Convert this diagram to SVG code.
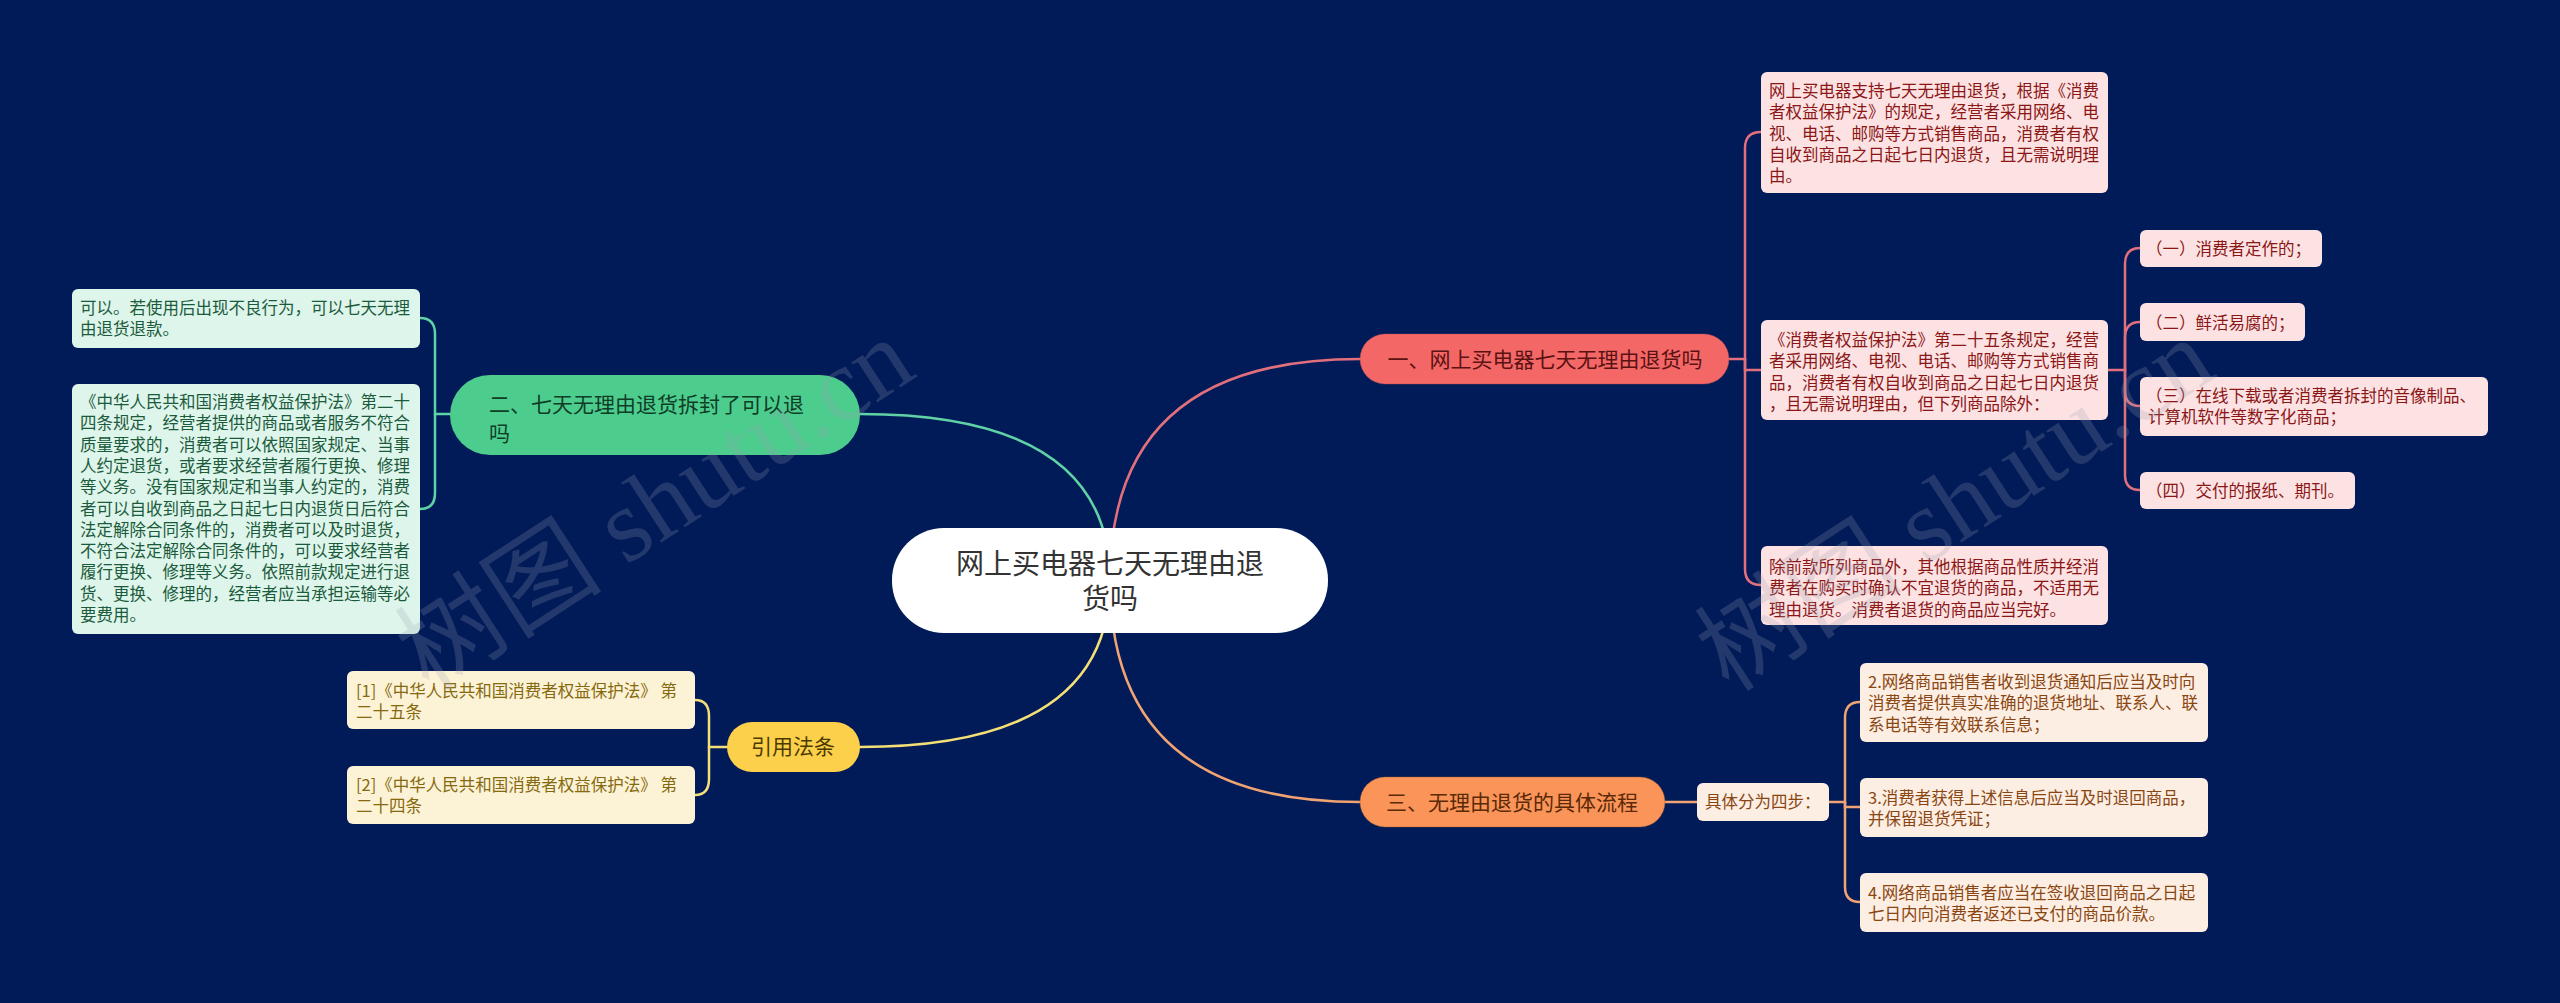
<svg xmlns="http://www.w3.org/2000/svg" width="2560" height="1003" viewBox="0 0 2560 1003">
<style>
text{font-family:"Noto Sans CJK SC","Microsoft YaHei",sans-serif}
.leaf{font-size:16.5px}
.br{font-size:21px}
.wm{font-family:"Liberation Serif","Noto Sans CJK SC",serif;font-size:104px;fill:#9aa0b0;opacity:0.22}
.c{fill:none;stroke-width:2.5;stroke-linecap:round}
.cg{stroke:#5fd3a6}.cr{stroke:#e2707c}.cy{stroke:#f3df76}.co{stroke:#f0a373}
.lr{fill:#fde2e3}.tr{fill:#8a1616}
.lg{fill:#ddf5ea}.tg{fill:#1c5a3c}
.ly{fill:#fcf3d6}.ty{fill:#86690e}
.lo{fill:#fdeee3}.to{fill:#8a4612}
</style>
<rect width="2560" height="1003" fill="#011b59"/>

<g id="connectors">
<path class="c cg" d="M1110 580 Q1110 414 860 414"/>
<path class="c cr" d="M1110 580 Q1110 359 1360 359"/>
<path class="c cy" d="M1110 580 Q1110 747 860 747"/>
<path class="c co" d="M1110 580 Q1110 802 1360 802"/>
<path class="c cg" d="M450 414 H435 V334 Q435 318 420 318"/>
<path class="c cg" d="M435 414 V493 Q435 509 420 509"/>
<path class="c cy" d="M727 747 H709 V716 Q709 700 695 700"/>
<path class="c cy" d="M709 747 V779 Q709 795 695 795"/>
<path class="c cr" d="M1729 359 H1745 V148 Q1745 132 1761 132"/>
<path class="c cr" d="M1745 359 V370 H1761"/>
<path class="c cr" d="M1745 359 V569 Q1745 585 1761 585"/>
<path class="c cr" d="M2108 370 H2125 V264 Q2125 248 2140 248"/>
<path class="c cr" d="M2125 370 V338 Q2125 322 2140 322"/>
<path class="c cr" d="M2125 370 V391 Q2125 406 2140 406"/>
<path class="c cr" d="M2125 370 V475 Q2125 490 2140 490"/>
<path class="c co" d="M1665 802 H1697"/>
<path class="c co" d="M1829 802 H1845 V718 Q1845 702 1860 702"/>
<path class="c co" d="M1845 802 V807 H1860"/>
<path class="c co" d="M1845 802 V887 Q1845 902 1860 902"/>
</g>

<g id="root">
<rect x="892" y="528" width="436" height="105" rx="52" fill="#ffffff"/>
<text x="1110" y="574" font-size="28" fill="#333" text-anchor="middle">网上买电器七天无理由退</text>
<text x="1110" y="609" font-size="28" fill="#333" text-anchor="middle">货吗</text>
</g>

<g id="b1">
<rect x="1360" y="334" width="369" height="50" rx="25" fill="#f46767" stroke="#b04a4a" stroke-opacity="0.4"/>
<text class="br" x="1545" y="367" fill="#5a1212" text-anchor="middle">一、网上买电器七天无理由退货吗</text>
</g>
<g id="b2">
<rect x="450" y="375" width="410" height="80" rx="40" fill="#4ccd8e"/>
<text class="br" x="489" y="412" fill="#0f3d26">二、七天无理由退货拆封了可以退</text>
<text class="br" x="489" y="441" fill="#0f3d26">吗</text>
</g>
<g id="b3">
<rect x="1360" y="777" width="305" height="50" rx="25" fill="#fb9458" stroke="#a05a2a" stroke-opacity="0.4"/>
<text class="br" x="1512" y="810" fill="#5a2a08" text-anchor="middle">三、无理由退货的具体流程</text>
</g>
<g id="b4">
<rect x="727" y="722" width="133" height="50" rx="25" fill="#fdd04b"/>
<text class="br" x="793" y="754" fill="#4a3a00" text-anchor="middle">引用法条</text>
</g>

<g id="r1">
<rect class="lr" x="1761" y="72" width="347" height="121" rx="6"/>
<text class="leaf tr"><tspan x="1769" y="97">网上买电器支持七天无理由退货，根据《消费</tspan><tspan x="1769" y="118.3">者权益保护法》的规定，经营者采用网络、电</tspan><tspan x="1769" y="139.6">视、电话、邮购等方式销售商品，消费者有权</tspan><tspan x="1769" y="160.9">自收到商品之日起七日内退货，且无需说明理</tspan><tspan x="1769" y="182.2">由。</tspan></text>
</g>
<g id="r2">
<rect class="lr" x="1761" y="320" width="347" height="100" rx="6"/>
<text class="leaf tr"><tspan x="1769" y="346">《消费者权益保护法》第二十五条规定，经营</tspan><tspan x="1769" y="367.3">者采用网络、电视、电话、邮购等方式销售商</tspan><tspan x="1769" y="388.6">品，消费者有权自收到商品之日起七日内退货</tspan><tspan x="1769" y="409.9">，且无需说明理由，但下列商品除外：</tspan></text>
</g>
<g id="r3">
<rect class="lr" x="1761" y="546" width="347" height="79" rx="6"/>
<text class="leaf tr"><tspan x="1769" y="573">除前款所列商品外，其他根据商品性质并经消</tspan><tspan x="1769" y="594.3">费者在购买时确认不宜退货的商品，不适用无</tspan><tspan x="1769" y="615.6">理由退货。消费者退货的商品应当完好。</tspan></text>
</g>

<g id="s1">
<rect class="lr" x="2140" y="230" width="182" height="37" rx="6"/>
<text class="leaf tr" x="2146" y="255">（一）消费者定作的；</text>
</g>
<g id="s2">
<rect class="lr" x="2140" y="303" width="165" height="38" rx="6"/>
<text class="leaf tr" x="2146" y="328.5">（二）鲜活易腐的；</text>
</g>
<g id="s3">
<rect class="lr" x="2140" y="377" width="348" height="59" rx="6"/>
<text class="leaf tr"><tspan x="2146" y="402">（三）在线下载或者消费者拆封的音像制品、</tspan><tspan x="2148" y="423.3">计算机软件等数字化商品；</tspan></text>
</g>
<g id="s4">
<rect class="lr" x="2140" y="472" width="215" height="37" rx="6"/>
<text class="leaf tr" x="2146" y="497">（四）交付的报纸、期刊。</text>
</g>

<g id="g1">
<rect class="lg" x="72" y="289" width="348" height="59" rx="6"/>
<text class="leaf tg"><tspan x="80" y="314">可以。若使用后出现不良行为，可以七天无理</tspan><tspan x="80" y="335.3">由退货退款。</tspan></text>
</g>
<g id="g2">
<rect class="lg" x="72" y="384" width="348" height="250" rx="6"/>
<text class="leaf tg"><tspan x="80" y="408">《中华人民共和国消费者权益保护法》第二十</tspan><tspan x="80" y="429.3">四条规定，经营者提供的商品或者服务不符合</tspan><tspan x="80" y="450.6">质量要求的，消费者可以依照国家规定、当事</tspan><tspan x="80" y="471.9">人约定退货，或者要求经营者履行更换、修理</tspan><tspan x="80" y="493.2">等义务。没有国家规定和当事人约定的，消费</tspan><tspan x="80" y="514.5">者可以自收到商品之日起七日内退货日后符合</tspan><tspan x="80" y="535.8">法定解除合同条件的，消费者可以及时退货，</tspan><tspan x="80" y="557.1">不符合法定解除合同条件的，可以要求经营者</tspan><tspan x="80" y="578.4">履行更换、修理等义务。依照前款规定进行退</tspan><tspan x="80" y="599.7">货、更换、修理的，经营者应当承担运输等必</tspan><tspan x="80" y="621">要费用。</tspan></text>
</g>

<g id="y1">
<rect class="ly" x="347" y="671" width="348" height="58" rx="6"/>
<text class="leaf ty"><tspan x="356" y="697">[1]《中华人民共和国消费者权益保护法》 第</tspan><tspan x="356" y="718.3">二十五条</tspan></text>
</g>
<g id="y2">
<rect class="ly" x="347" y="766" width="348" height="58" rx="6"/>
<text class="leaf ty"><tspan x="356" y="791">[2]《中华人民共和国消费者权益保护法》 第</tspan><tspan x="356" y="812.3">二十四条</tspan></text>
</g>

<g id="o0">
<rect class="lo" x="1697" y="783" width="132" height="38" rx="6"/>
<text class="leaf to" x="1705" y="808">具体分为四步：</text>
</g>
<g id="o1">
<rect class="lo" x="1860" y="663" width="348" height="79" rx="6"/>
<text class="leaf to"><tspan x="1868" y="688">2.网络商品销售者收到退货通知后应当及时向</tspan><tspan x="1868" y="709.3">消费者提供真实准确的退货地址、联系人、联</tspan><tspan x="1868" y="730.6">系电话等有效联系信息；</tspan></text>
</g>
<g id="o2">
<rect class="lo" x="1860" y="778" width="348" height="59" rx="6"/>
<text class="leaf to"><tspan x="1868" y="804">3.消费者获得上述信息后应当及时退回商品，</tspan><tspan x="1868" y="825.3">并保留退货凭证；</tspan></text>
</g>
<g id="o3">
<rect class="lo" x="1860" y="873" width="348" height="59" rx="6"/>
<text class="leaf to"><tspan x="1868" y="899">4.网络商品销售者应当在签收退回商品之日起</tspan><tspan x="1868" y="920.3">七日内向消费者返还已支付的商品价款。</tspan></text>
</g>

<text class="wm" x="655" y="540" text-anchor="middle" transform="rotate(-33 655 505)">树图 shutu.cn</text>
<text class="wm" x="1955" y="540" text-anchor="middle" transform="rotate(-33 1955 505)">树图 shutu.cn</text>
</svg>
